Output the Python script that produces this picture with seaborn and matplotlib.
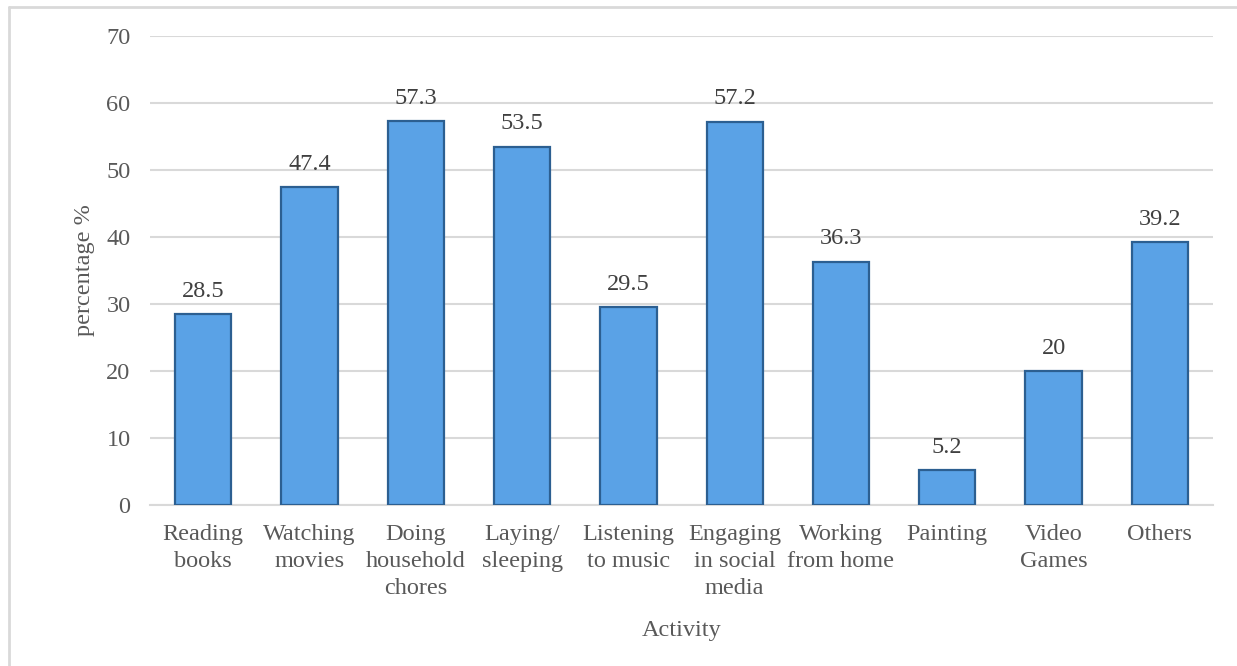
import matplotlib
matplotlib.use("Agg")
import matplotlib.pyplot as plt
import seaborn as sns
import pandas as pd
from matplotlib.lines import Line2D

activities = [
    "Reading\nbooks",
    "Watching\nmovies",
    "Doing\nhousehold\nchores",
    "Laying/\nsleeping",
    "Listening\nto music",
    "Engaging\nin social\nmedia",
    "Working\nfrom home",
    "Painting",
    "Video\nGames",
    "Others",
]
percentages = [28.5, 47.4, 57.3, 53.5, 29.5, 57.2, 36.3, 5.2, 20, 39.2]
value_labels = ["28.5", "47.4", "57.3", "53.5", "29.5", "57.2", "36.3", "5.2", "20", "39.2"]

df = pd.DataFrame({"activity": activities, "percentage": percentages})

sns.set_theme(style="white")
plt.rcParams["font.family"] = ["Liberation Serif", "DejaVu Serif"]

text_color = "#595959"
grid_color = "#D9D9D9"

fig = plt.figure(figsize=(12.37, 6.66), dpi=100)
ax = fig.add_axes([0.1213, 0.2417, 0.8593, 0.7042])

sns.barplot(
    data=df,
    x="activity",
    y="percentage",
    color="#5AA2E6",
    saturation=1,
    edgecolor="#2C5F91",
    linewidth=1.6,
    width=0.53,
    ax=ax,
    zorder=3,
)

for i, p in enumerate(ax.patches):
    ax.annotate(
        value_labels[i],
        (p.get_x() + p.get_width() / 2, p.get_height()),
        xytext=(0, 9),
        textcoords="offset points",
        ha="center",
        va="bottom",
        fontsize=17.5,
        color="#404040",
    )

ax.set_ylim(0, 70)
ax.set_yticks(range(0, 71, 10))
ax.set_xlim(-0.5, len(activities) - 0.5)
ax.yaxis.grid(True, color=grid_color, linewidth=1.5, zorder=0)
ax.set_axisbelow(True)

for side in ["top", "right", "left"]:
    ax.spines[side].set_visible(False)
ax.spines["bottom"].set_color(grid_color)
ax.spines["bottom"].set_linewidth(1.5)

ax.tick_params(axis="both", length=0, labelsize=17.5, colors=text_color)
ax.tick_params(axis="x", pad=14)
ax.tick_params(axis="y", pad=14)
for lbl in ax.get_xticklabels():
    lbl.set_linespacing(1.35)

ax.set_xlabel("Activity", fontsize=17.5, color=text_color, labelpad=15)
ax.set_ylabel("percentage %", fontsize=17.5, color=text_color, labelpad=8)

# outer frame (top and left edges visible)
fig.add_artist(Line2D([9 / 1237, 9 / 1237], [0, 1 - 7 / 666], transform=fig.transFigure, color=grid_color, linewidth=2))
fig.add_artist(Line2D([9 / 1237, 1], [1 - 7 / 666, 1 - 7 / 666], transform=fig.transFigure, color=grid_color, linewidth=2))

fig.savefig("out.png", dpi=100)
